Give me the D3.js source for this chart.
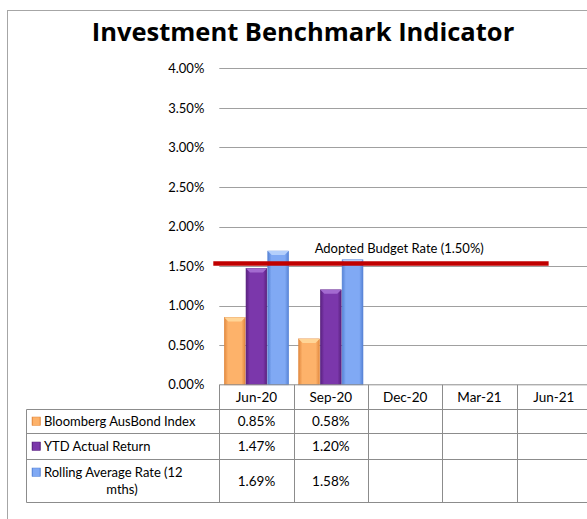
<!DOCTYPE html>
<html>
<head>
<meta charset="utf-8">
<script src="https://cdn.jsdelivr.net/npm/d3@7"></script>
<style>
  body { margin: 0; background: #fff; }
  text { font-family: Lato, "Open Sans", sans-serif; fill: #000; }
</style>
</head>
<body>
<svg id="canvas" width="587" height="519"></svg>
<script>
// chart data
let categories = ["Jun-20", "Sep-20", "Dec-20", "Mar-21", "Jun-21"];
let seriesNames = ["Bloomberg AusBond Index", "YTD Actual Return", "Rolling Average Rate (12 mths)"];
let bloomberg = [0.85, 0.58, null, null, null];
let ytdReturn = [1.47, 1.20, null, null, null];
let rollingAvg = [1.69, 1.58, null, null, null];
let budgetRate = 1.50;
let budgetLabel = "Adopted Budget Rate (1.50%)";
let yTicks = [0, 0.5, 1, 1.5, 2, 2.5, 3, 3.5, 4];

let svg = d3.select("#canvas");

// colours: [edge, centre, cap]
let palette = [
    ["#e2893f", "#fdb26a", "#ffd597"],
    ["#59217f", "#7b37ab", "#a36ad0"],
    ["#5683d6", "#80a9f4", "#b4cffb"]
];

let plotLeft = 219.3, plotRight = 591, plotTop = 68.3, plotBottom = 384.8;

let x = d3.scaleBand().domain(categories).range([plotLeft, plotRight]);
let x1 = d3.scaleBand().domain(d3.range(3)).range([5, x.bandwidth() - 5]).paddingInner(0.04);
let y = d3.scaleLinear().domain([0, 4]).range([plotBottom, plotTop]);

// outer frame
svg.append("rect")
    .attr("x", 7.5).attr("y", 10.5)
    .attr("width", 600).attr("height", 530)
    .attr("fill", "none").attr("stroke", "#a6a6a6");

svg.append("text")
    .attr("x", 303).attr("y", 41)
    .attr("text-anchor", "middle")
    .style("font-family", "'Open Sans', sans-serif")
    .style("font-size", "25.5px").style("font-weight", "bold")
    .text("Investment Benchmark Indicator");

// gradients for the bars
let defs = svg.append("defs");
palette.forEach((c, i) => {
    let g = defs.append("linearGradient").attr("id", "bar" + i)
        .attr("x1", "0%").attr("x2", "100%").attr("y1", "0%").attr("y2", "0%");
    g.append("stop").attr("offset", "0%").style("stop-color", c[0]);
    g.append("stop").attr("offset", "18%").style("stop-color", c[1]);
    g.append("stop").attr("offset", "82%").style("stop-color", c[1]);
    g.append("stop").attr("offset", "100%").style("stop-color", c[0]);
});

// gridlines
svg.append("g")
    .selectAll("line")
    .data(yTicks.filter(d => d > 0))
    .join("line")
    .attr("x1", plotLeft).attr("x2", plotRight)
    .attr("y1", d => Math.round(y(d)) + 0.5).attr("y2", d => Math.round(y(d)) + 0.5)
    .attr("stroke", "#a0a0a0");

// y axis labels
let yAxis = d3.axisLeft(y).tickValues(yTicks).tickSize(0).tickPadding(15)
    .tickFormat(d => d.toFixed(2) + "%");
svg.append("g")
    .attr("transform", "translate(" + plotLeft + ",0)")
    .call(yAxis)
    .call(g => g.select(".domain").remove())
    .selectAll("text")
    .style("font-family", "Lato, sans-serif")
    .style("font-size", "13px");

// bars
let allSeries = [bloomberg, ytdReturn, rollingAvg];
let barData = [];
allSeries.forEach((vals, s) => {
    vals.forEach((v, i) => {
        if (v != null) barData.push({ cat: categories[i], s: s, v: v });
    });
});

let bars = svg.append("g").selectAll("g")
    .data(barData)
    .join("g")
    .attr("transform", d => "translate(" + (x(d.cat) + x1(d.s)) + ",0)");

bars.append("rect")
    .attr("x", 0).attr("y", d => y(d.v))
    .attr("width", x1.bandwidth())
    .attr("height", d => y(0) - y(d.v))
    .attr("fill", d => "url(#bar" + d.s + ")")
    .attr("stroke", d => palette[d.s][0])
    .attr("stroke-width", 0.6);

// bevelled top of each bar
bars.append("polygon")
    .attr("points", d => {
        let w = x1.bandwidth(), t = y(d.v);
        return [[0, t], [w, t], [w - 4, t + 4], [4, t + 4]].join(" ");
    })
    .attr("fill", d => palette[d.s][2]);

// budget rate line
let lineEnd = x("Jun-21") + x.bandwidth() * 0.43;
svg.append("line")
    .attr("x1", plotLeft - 6).attr("x2", lineEnd)
    .attr("y1", y(budgetRate) - 2.5).attr("y2", y(budgetRate) - 2.5)
    .attr("stroke", "#c00000").attr("stroke-width", 4.5);

svg.append("text")
    .attr("x", x("Sep-20") + 21).attr("y", y(budgetRate) - 13.5)
    .style("font-size", "13px")
    .text(budgetLabel);

// data table
let tableLeft = 26.5;
let rowTops = [plotBottom, 409.5, 433.5, 459.5, 502.5];
let table = svg.append("g");
let gridColor = "#8c8c8c";

// horizontal lines
table.selectAll(".hline")
    .data(rowTops.slice(1))
    .join("line")
    .attr("x1", tableLeft).attr("x2", plotRight)
    .attr("y1", d => d).attr("y2", d => d)
    .attr("stroke", gridColor);
svg.append("line")
    .attr("x1", plotLeft).attr("x2", plotRight)
    .attr("y1", plotBottom).attr("y2", plotBottom)
    .attr("stroke", gridColor);

// vertical lines
let colEdges = categories.map(c => x(c)).concat([plotRight]);
table.selectAll(".vline")
    .data(colEdges)
    .join("line")
    .attr("x1", d => Math.round(d) + 0.5).attr("x2", d => Math.round(d) + 0.5)
    .attr("y1", plotBottom).attr("y2", rowTops[4])
    .attr("stroke", gridColor);
table.append("line")
    .attr("x1", tableLeft).attr("x2", tableLeft)
    .attr("y1", rowTops[1]).attr("y2", rowTops[4])
    .attr("stroke", gridColor);

// header labels
table.selectAll(".cat")
    .data(categories)
    .join("text")
    .attr("x", d => x(d) + x.bandwidth() / 2)
    .attr("y", (rowTops[0] + rowTops[1]) / 2 + 4.5)
    .attr("text-anchor", "middle")
    .style("font-size", "13.5px")
    .text(d => d);

// legend column and values
allSeries.forEach((vals, s) => {
    let top = rowTops[s + 1], bottom = rowTops[s + 2];
    let mid = (top + bottom) / 2;
    let lines = s === 2 ? ["Rolling Average Rate (12", "mths)"] : [seriesNames[s]];
    let firstY = mid - (lines.length - 1) * 8.5;

    table.append("rect")
        .attr("x", 32).attr("y", firstY - 4.5)
        .attr("width", 8.5).attr("height", 8.5)
        .attr("fill", "url(#bar" + s + ")")
        .attr("stroke", palette[s][0]).attr("stroke-width", 0.5);

    let lineText = table.append("text").style("font-size", "13px");
    lineText.append("tspan").attr("x", 44).attr("y", firstY + 4.5).text(lines[0]);
    if (lines.length > 1) {
        table.append("text")
            .attr("x", 122).attr("y", firstY + 17 + 4.5)
            .attr("text-anchor", "middle")
            .style("font-size", "13px")
            .text(lines[1]);
    }

    table.selectAll(".val" + s)
        .data(vals.map((v, i) => ({ v: v, cat: categories[i] })).filter(d => d.v != null))
        .join("text")
        .attr("x", d => x(d.cat) + x.bandwidth() / 2)
        .attr("y", mid + 4.5)
        .attr("text-anchor", "middle")
        .style("font-size", "13.5px")
        .text(d => d.v.toFixed(2) + "%");
});
</script>
</body>
</html>
